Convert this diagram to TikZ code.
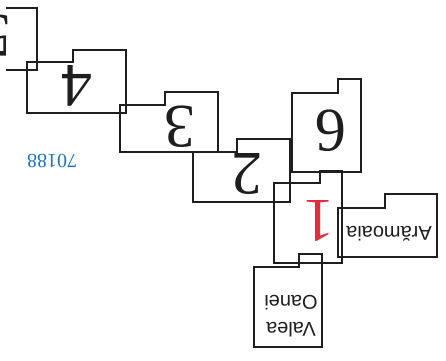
\documentclass[tikz,border=0pt]{standalone}
\usepackage{fontspec}
\setmainfont{Liberation Serif}
\newfontfamily\sansf{Liberation Sans}
\definecolor{inkc}{RGB}{30,30,30}
\definecolor{redc}{RGB}{225,45,60}
\definecolor{bluec}{RGB}{25,115,195}
\newcommand\tabbox[6]{\draw[box] (#1,#6) -- (#1,#2) -- (#3,#2) -- (#3,#4) -- (#5,#4) -- (#5,#6) -- cycle;}
\begin{document}
\begin{tikzpicture}[x=1pt,y=-1pt,
  box/.style={draw=inkc, line width=1.2pt, line join=miter},
  dig/.style={rotate=180, inner sep=0pt, text=inkc, font=\fontsize{62}{62}\selectfont},
  lab/.style={rotate=180, inner sep=0pt, anchor=base, text=inkc, font=\sansf\fontsize{20}{24}\selectfont}]
\useasboundingbox (0,0) rectangle (446,360);
\clip (0,0) rectangle (446,360);
% box 5 (cut at the left edge)
\draw[box] (6,8) -- (37,8) -- (37,70) -- (6,70);
\node[dig] (n5) at (-4,35) {5};
% box 4
\tabbox{27}{62}{73}{50}{126}{113}
\node[dig] (n4) at (77,86) {4};
% box 3
\tabbox{120}{105}{165}{92}{218}{152}
\node[dig] (n3) at (180,127) {3};
% box 2
\tabbox{193}{152}{237}{139}{290}{202}
\node[dig] (n2) at (247,174) {2};
% box 6
\tabbox{292}{93}{338}{79}{361}{172}
\node[dig] (n6) at (331,131) {6};
% box 1
\tabbox{274}{183}{320}{171}{342}{263}
\node[dig, text=redc] (n1) at (319,221) {1};
% Aramoaia
\tabbox{338}{208}{385}{194}{437}{257}
\node[lab] (ar) at (389,226) {Arămoaia};
% Valea Oanei
\tabbox{254}{267}{299}{254}{322}{347}
\node[lab] (va) at (291,322) {Valea};
\node[lab] (oa) at (291,295) {Oanei};
% code
\node[rotate=180, inner sep=0pt, text=bluec, font=\fontsize{20}{20}\selectfont] (code) at (52,161) {70188};
\end{tikzpicture}
\end{document}
